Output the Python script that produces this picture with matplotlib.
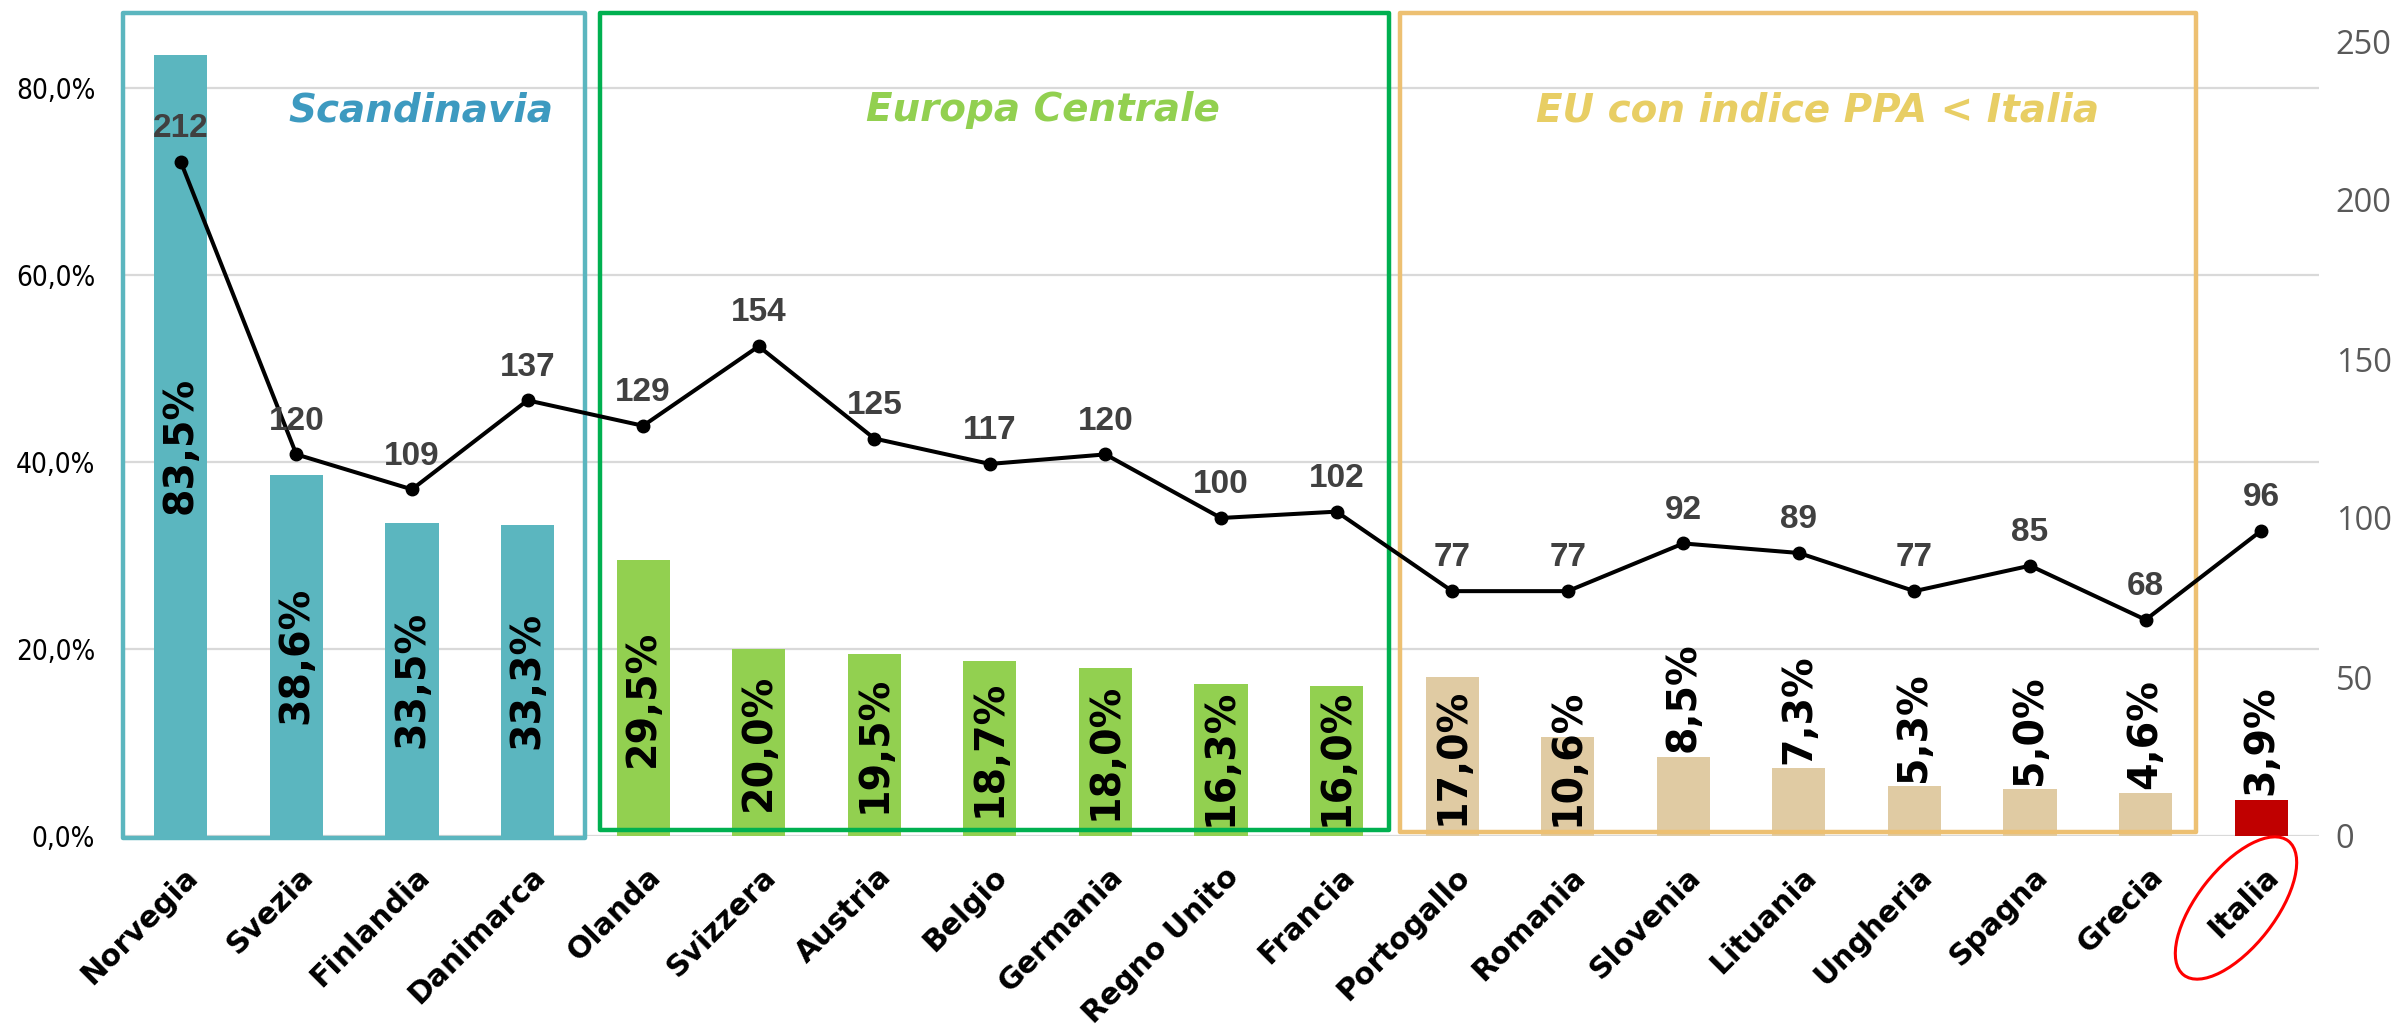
import matplotlib
matplotlib.use("Agg")
import matplotlib.pyplot as plt
from matplotlib.patches import Rectangle, Ellipse
from matplotlib.transforms import blended_transform_factory, ScaledTranslation, Affine2D
import numpy as np

countries = ["Norvegia", "Svezia", "Finlandia", "Danimarca", "Olanda", "Svizzera",
             "Austria", "Belgio", "Germania", "Regno Unito", "Francia", "Portogallo",
             "Romania", "Slovenia", "Lituania", "Ungheria", "Spagna", "Grecia", "Italia"]
pct_values = [83.5, 38.6, 33.5, 33.3, 29.5, 20.0, 19.5, 18.7, 18.0, 16.3, 16.0,
              17.0, 10.6, 8.5, 7.3, 5.3, 5.0, 4.6, 3.9]
ppa_index = [212, 120, 109, 137, 129, 154, 125, 117, 120, 100, 102,
             77, 77, 92, 89, 77, 85, 68, 96]
group_names = ["Scandinavia", "Europa Centrale", "EU con indice PPA < Italia"]
group_first = [0, 4, 11]
group_last = [3, 10, 17]
left_ticks = [0, 20, 40, 60, 80]
right_ticks = [0, 50, 100, 150, 200, 250]

bar_colors = ["#5BB6BF"] * 4 + ["#92D050"] * 7 + ["#E0CBA3"] * 7 + ["#C00000"]
box_colors = ["#5BB6BF", "#00B050", "#EDC072"]
title_colors = ["#3D9AC0", "#92D050", "#E8CE64"]
box_x_insets = [(0.0, 0.0), (0.13, 0.05), (0.05, 0.06)]
box_bottoms = [-0.002, 0.007, 0.005]
title_shift = [0.58, 0.42, 0.17]

W, H, DPI = 2404, 1031, 100
fig = plt.figure(figsize=(W / DPI, H / DPI), dpi=DPI)
ax_l, ax_r, ax_b, ax_t = 123, 2319, 836, 41
ax = fig.add_axes([ax_l / W, 1 - ax_b / H, (ax_r - ax_l) / W, (ax_b - ax_t) / H])
ax2 = ax.twinx()

x = np.arange(len(countries))
ax.bar(x, pct_values, width=0.46, color=bar_colors, zorder=2)
ax.set_xlim(-0.5, len(countries) - 0.5)
ax.set_ylim(0, 85)
ax2.set_ylim(0, 250)

# grid / left axis
ax.set_yticks(left_ticks)
ax.set_yticklabels([f"{t:.1f}%".replace(".", ",") for t in left_ticks],
                   fontsize=20, family="DejaVu Sans", fontstretch="condensed")
ax.yaxis.grid(True, color="#D9D9D9", lw=1.6, zorder=0)
ax.set_axisbelow(True)
ax.tick_params(axis="y", length=0, pad=20)
for s in ax.spines.values():
    s.set_visible(False)
for s in ax2.spines.values():
    s.set_visible(False)

# right axis
ax2.set_yticks(right_ticks)
ax2.set_yticklabels([str(t) for t in right_ticks], fontsize=23.5, color="#595959",
                    family="Open Sans")
ax2.tick_params(axis="y", length=0, pad=12)

# x labels
ax.set_xticks(x)
ax.set_xticklabels(countries, rotation=45, ha="right", va="center",
                   rotation_mode="anchor", fontsize=21.5, fontweight="bold",
                   family="DejaVu Sans")
ax.tick_params(axis="x", length=0, pad=26)
for lab in ax.get_xticklabels():
    lab.set_transform(lab.get_transform() + ScaledTranslation(0.13, 0, fig.dpi_scale_trans))

# percent labels
for xi, v in zip(x, pct_values):
    txt = f"{v:.1f}%".replace(".", ",")
    if v >= 10:
        ax.text(xi, max(v / 2, 8.4), txt, rotation=90, ha="center", va="center",
                fontsize=28.5, fontweight="bold", color="black", zorder=5)
    else:
        ax.annotate(txt, (xi, v), xytext=(0, 3), textcoords="offset points",
                    rotation=90, ha="center", va="bottom",
                    fontsize=28.5, fontweight="bold", color="black", zorder=5)

# line
ax2.plot(x, ppa_index, color="black", lw=2.9, marker="o", markersize=9, zorder=4)
for xi, v in zip(x, ppa_index):
    ax2.annotate(str(v), (xi, v), xytext=(0, 24), textcoords="offset points",
                 ha="center", va="center", fontsize=24, fontweight="bold",
                 color="#404040", family="Liberation Sans", zorder=6)

# group boxes and titles
trans = blended_transform_factory(ax.transData, ax.transAxes)
for name, a, b, bc, tc, ins, bb, sh in zip(group_names, group_first, group_last,
                                           box_colors, title_colors, box_x_insets,
                                           box_bottoms, title_shift):
    x0 = a - 0.5 + ins[0]
    x1 = b + 0.5 - ins[1]
    top = 1.035
    rect = Rectangle((x0, bb), x1 - x0, top - bb, transform=trans, fill=False,
                     edgecolor=bc, lw=3.2, clip_on=False, zorder=3, joinstyle="round")
    ax2.add_patch(rect)
    ax2.text((x0 + x1) / 2 + sh, 0.913, name, transform=trans, ha="center", va="center",
             fontsize=28, fontweight="bold", style="italic", color=tc, zorder=6)

# red ellipse around Italia label (pixel coordinates)
ell = Ellipse((0, 0), 170, 78, angle=52, fill=False, edgecolor="#FF0000", lw=2.2,
              transform=Affine2D().translate(2236, H - 908))
ell.set_figure(fig)
fig.patches.append(ell)

fig.savefig("out.png", dpi=DPI, facecolor="white")
